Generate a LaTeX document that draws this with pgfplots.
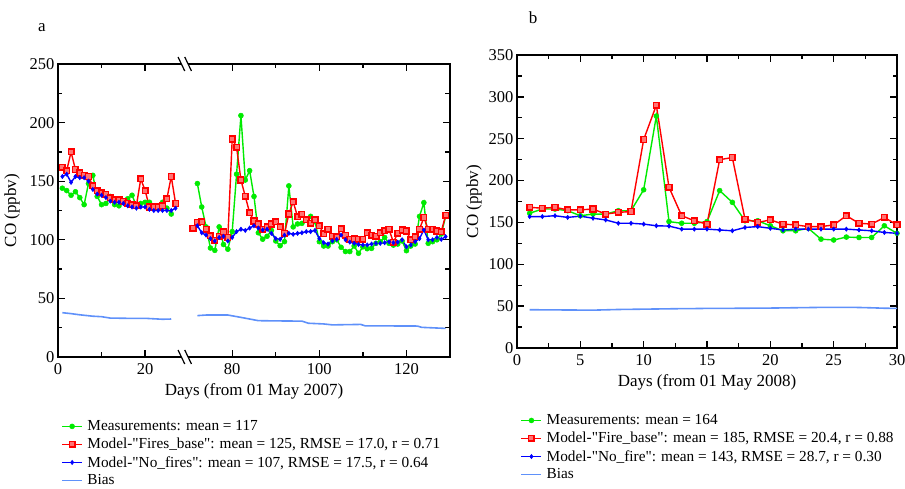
\documentclass[border=0pt]{standalone}
\usepackage{pgfplots}
\pgfplotsset{compat=1.18}
\usepackage{pgfplotstable}
\usepackage{fontspec}
\setmainfont{Liberation Serif}[Ligatures=TeXOff]
\definecolor{mgreen}{RGB}{0,235,0}
\definecolor{mred}{RGB}{255,0,0}
\definecolor{mblue}{RGB}{0,0,255}
\definecolor{mbias}{RGB}{95,145,250}

% Panel a: days, measurements, Fires_base, No_fires
\pgfplotstableread{
d meas fire nofire
1 144 162 154
2 142 159 156
3 138 175 149
4 141 160 154
5 136 157 153
6 130 155 153
7 148 154 150
8 155 146 143
9 137 142 139
10 130 140 138
11 131 139 136
12 137 136 133
13 130 134 132
14 129 134 132
15 133 133 131
16 135 131 129
17 138 130 128
18 129 129 127
19 131 152 128
20 132 142 128
21 132 128 126
22 129 128 125
23 128 128 125
24 132 129 125
25 127 135 125
26 122 154 125
27 nan 131 127
50 nan nan nan
71 nan 110 nan
72 148 115 112
73 128 115.5 106
74 111 109 104
75 93 103.5 101
76 91 99.5 99
77 111 103 102
78 96 107 103
79 92 102 99
80 107 186 102
81 156 179 107
82 206 151 109
83 151 137 108
84 159 123 110
85 137 116 112
86 106 113.5 110
87 100.5 109 108.4
88 103 111 109
89 108 113.5 105.5
90 99 115.5 101
91 95 111 100.4
92 98.4 105.5 104
93 146 122 105.5
94 111 132.5 104.7
95 113.5 119.7 105.5
96 114 121.7 106
97 117 117 107
98 120 114 107
99 115.5 117 108
100 98.4 112 101
101 94.7 105 97.5
102 94.7 109 96.4
103 98.4 103 99
104 100 102.7 100.4
105 93.6 109.5 104
106 90 104 100
107 90 100.4 98
108 94.7 101 97
109 88.5 100.4 96
110 94 100.4 95.6
111 92.4 106 95.6
112 92.7 104 96.4
113 97 103 97
114 98.4 106 97
115 102 107.8 97.5
116 97 109 98.4
117 95.5 98 97.5
118 96.4 105.5 98
119 99 108.4 100
120 90.7 107.5 94
121 94.7 100 95.6
122 96.4 102.7 98.4
123 120 109 101
124 131.7 119 108.4
125 97 109 100
126 98.4 109 100
127 100 107.5 102
128 105 107 100.4
129 120 121 102.7
}\tabA

\pgfplotstableread{
d bias
1 37.8
3 37
5 36
8 34.8
10 34.4
12 33.2
16 33
20 33
24 32.2
26 32.4
50 nan
72 35.3
74 35.8
79 35.8
82 33.8
86 31
90 30.8
96 30.6
97.5 28.8
101 28.2
103 27.4
109.5 27.8
110.5 26.6
122.5 26.4
123.5 25.3
129 24.4
}\biasA

% Panel b
\pgfplotstableread{
d meas fire nofire bias
1 161 168 157 45.7
2 166 167 157 45.6
3 166 168 158 45.5
4 164 165 156 45.4
5 158 165 157.5 45.3
6 160 166 155 45.2
7 160 160 153 45.6
8 164 162 149 46.0
9 164 163 149 46.2
10 189 249 148 46.4
11 277 290 146 46.6
12 151 192 145.6 46.8
13 149 158 142 47.0
14 149 152 142 47.1
15 151 148 142 47.3
16 188 225 141 47.3
17 174 227.5 140 47.4
18 152 154 144 47.5
19 152 150 145 47.6
20 146 153 143 47.7
21 140 148 141 47.9
22 140 147 142 48.1
23 143 145 142 48.3
24 130 145 142 48.5
25 129 147 142 48.6
26 132.5 158 142 48.6
27 132 149 141 48.4
28 132 148 140 48.0
29 146 156 138 47.5
30 137 147 137 47.3
}\tabB

\pgfplotsset{
  cstyle/.style={
    scale only axis,
    axis line style={line width=1.6pt},
    tick align=inside,
    major tick length=7pt,
    minor tick length=4.5pt,
    every tick/.style={black, line width=1.3pt},
    tick label style={font=\fontsize{16.5}{18}\selectfont},
    xticklabel shift=3pt,
    label style={font=\fontsize{17}{19}\selectfont},
    xlabel style={yshift=-2pt},
    /pgf/number format/assume math mode=true,
    legend style={draw=none, fill=none, font=\fontsize{15.3}{17}\selectfont,
      inner sep=0pt, row sep=2pt, anchor=north west, nodes={inner sep=2pt}},
    legend cell align=left,
    legend image code/.code={\draw[mark repeat=2,mark phase=2,##1] plot coordinates {(0pt,0pt)(10pt,0pt)(20pt,0pt)};},
    unbounded coords=jump,
  },
  gstyle/.style={mgreen, line width=1.4pt, mark=*, mark size=2.5pt, mark options={fill=mgreen, draw=mgreen, line width=0.5pt}},
  rstyle/.style={mred, line width=1.4pt, mark=square*, mark size=2.8pt, mark options={fill=red!55, draw=mred, line width=1.5pt}},
  bstyle/.style={mblue, line width=1.4pt, mark=diamond*, mark size=2.1pt, mark options={fill=mblue, draw=mblue, line width=0.6pt}},
  biasstyle/.style={mbias, line width=1.6pt, no marks},
}

\begin{document}
\begin{tikzpicture}[x=1pt,y=1pt]
\useasboundingbox (0,0) rectangle (905,489);
\node[font=\fontsize{17}{19}\selectfont] at (42,461) {a};
\node[font=\fontsize{17}{19}\selectfont] at (533,471) {b};

\begin{axis}[cstyle,
  at={(58pt,132pt)}, anchor=south west,
  width=392pt, height=293pt,
  xmin=0, xmax=90, ymin=0, ymax=250,
  xtick={0,20,40,60,80}, xticklabels={0,20,80,100,120},
  minor xtick={10,50,70},
  ytick={0,50,100,150,200,250}, minor ytick={25,75,125,175,225},
  xlabel={Days (from 01 May 2007)}, ylabel={CO (ppbv)},
  ylabel style={xshift=0pt, yshift=3pt},
  legend style={at={(axis description cs:0.008,-0.2095)}, nodes={inner sep=2pt}},
  legend style={/tikz/every odd column/.append style={column sep=2.5pt}},
]
\addplot[gstyle] table[x expr={ifthenelse(\thisrow{d}>50,\thisrow{d}-40,\thisrow{d})}, y=meas] {\tabA};
\addlegendentry{Measurements: mean = 117}
\addplot[rstyle] table[x expr={ifthenelse(\thisrow{d}>50,\thisrow{d}-40,\thisrow{d})}, y=fire] {\tabA};
\addlegendentry{Model-"Fires\_base": mean = 125, RMSE = 17.0, r = 0.71}
\addplot[bstyle] table[x expr={ifthenelse(\thisrow{d}>50,\thisrow{d}-40,\thisrow{d})}, y=nofire] {\tabA};
\addlegendentry{Model-"No\_fires": mean = 107, RMSE = 17.5, r = 0.64}
\addplot[biasstyle] table[x expr={ifthenelse(\thisrow{d}>50,\thisrow{d}-40,\thisrow{d})}, y=bias] {\biasA};
\addlegendentry{Bias}
\coordinate (brkB) at (axis cs:29.1,0);
\coordinate (brkT) at (axis cs:29.1,250);
\end{axis}
\foreach \c in {brkB,brkT}{
  \fill[white, shift={(\c)}] (-3.4pt,-1.6pt) rectangle (3.4pt,1.6pt);
  \draw[line width=1.2pt, shift={(\c)}] (-6.7pt,7pt) -- (0pt,-7pt);
  \draw[line width=1.2pt, shift={(\c)}] (0pt,7pt) -- (6.7pt,-7pt);
}

\begin{axis}[cstyle,
  at={(517pt,141pt)}, anchor=south west,
  width=380pt, height=293pt,
  xmin=0, xmax=30, ymin=0, ymax=350,
  xtick={0,5,...,30}, minor xtick={2.5,7.5,...,27.5},
  ytick={0,50,...,350}, minor ytick={25,75,...,325},
  xlabel={Days (from 01 May 2008)}, ylabel={CO (ppbv)},
  legend style={at={(axis description cs:0.009,-0.22)}},
  legend style={/tikz/every odd column/.append style={column sep=2.5pt}},
]
\addplot[gstyle] table[x=d, y=meas] {\tabB};
\addlegendentry{Measurements: mean = 164}
\addplot[rstyle] table[x=d, y=fire] {\tabB};
\addlegendentry{Model-"Fire\_base": mean = 185, RMSE = 20.4, r = 0.88}
\addplot[bstyle] table[x=d, y=nofire] {\tabB};
\addlegendentry{Model-"No\_fire": mean = 143, RMSE = 28.7, r = 0.30}
\addplot[biasstyle] table[x=d, y=bias] {\tabB};
\addlegendentry{Bias}
\end{axis}
\end{tikzpicture}
\end{document}
